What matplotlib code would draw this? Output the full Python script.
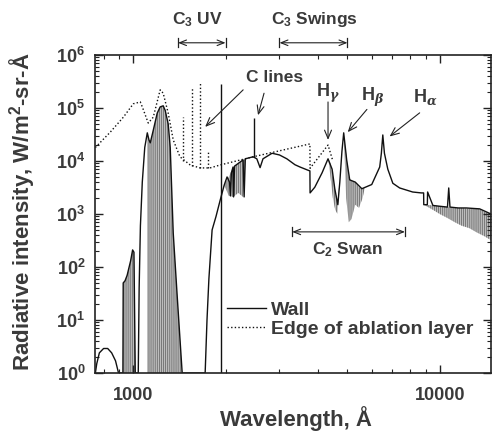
import numpy as np
import matplotlib
matplotlib.use('Agg')
import matplotlib.pyplot as plt
from matplotlib.ticker import FixedLocator, NullFormatter, LogLocator

plt.rcParams['font.family'] = ['Liberation Sans', 'DejaVu Sans']
plt.rcParams['font.weight'] = 'bold'
plt.rcParams['mathtext.fontset'] = 'custom'
plt.rcParams['mathtext.rm'] = 'Liberation Sans:bold'
plt.rcParams['mathtext.bf'] = 'Liberation Sans:bold'
plt.rcParams['mathtext.it'] = 'DejaVu Serif:italic'
plt.rcParams['hatch.linewidth'] = 0.5

TXT = '#3a3a3a'

# wall spectrum (solid line), wavelength in A, intensity in W/m2-sr-A
wall_x = [752, 760, 775, 800, 825, 850, 875, 895, 925, 927, 940, 955, 965, 980, 995, 1005, 1015,
          1038, 1045, 1055, 1070, 1090, 1111, 1125, 1136, 1162, 1197, 1224, 1252, 1271, 1300, 1320,
          1350, 1390, 1444, 1716, 1740, 1765, 1808, 1862, 1920, 1980, 2023, 2060, 2075, 2090, 2116,
          2125, 2140, 2282, 2300, 2320, 2460, 2530, 2593, 2650, 2837, 3000, 3170, 3370, 3500, 3717,
          3770, 3775, 3911, 4132, 4320, 4455, 4545, 4650, 4720, 4795, 4860, 4970, 5085, 5300, 5570,
          6000, 6370, 6450, 6520, 6600, 6770, 7030, 7400, 8160, 8700, 8860, 8870, 9110, 9130, 9500,
          10000, 10600, 10700, 10800, 11500, 12200, 13500, 14700]
wall_y = [1, 1.5, 2.4, 2.9, 2.9, 2.4, 1.7, 1, 1, 50, 55, 70, 90, 130, 210, 190, 1,
          1, 40, 600, 4000, 1.8e4, 3.4e4, 2.5e4, 2.2e4, 3.8e4, 8e4, 1.05e5, 1.1e5, 9e4, 5e4, 1.8e4,
          440, 30, 1, 1, 10, 60, 500, 900, 1800, 3500, 5e3, 4e3, 2.2e3, 6e3, 7.7e3,
          2.1e3, 8e3, 1.05e4, 2.1e3, 1.1e4, 1.2e4, 1.1e4, 7.5e3, 1.1e4, 1.4e4, 1.3e4, 1.1e4, 8.5e3, 7.7e3, 6.7e3,
          6.5e3, 2.5e3, 3.2e3, 6e3, 1.1e4, 7e3, 3e3, 1.5e3, 4e3, 1.5e4, 3.4e4, 1.05e4, 4.4e3, 4e3, 3e3,
          3.6e3, 7.7e3, 1.4e4, 3.1e4, 1.4e4, 7e3, 3.8e3, 3.1e3, 2.6e3, 2.5e3, 2.5e3, 1.5e3, 1.5e3, 2.6e3, 1.45e3,
          1.4e3, 1.35e3, 3.1e3, 1.35e3, 1.3e3, 1.3e3, 1.25e3, 1.0e3]

# edge of ablation layer (dotted line)
edge_x = [752, 841, 928, 1000, 1054, 1070, 1119, 1162, 1224, 1252, 1300, 1350, 1420, 1534, 1652,
          1780, 1920, 2460, 3770, 3775, 4320, 4480]
edge_y = [1.8e4, 3.5e4, 6.7e4, 1.2e5, 1.3e5, 1.05e5, 5.2e4, 6.7e4, 2.2e5, 1.9e5, 8e4, 2.5e4, 1.2e4,
          8.4e3, 7.4e3, 7.4e3, 8.4e3, 1.2e4, 2.1e4, 7.3e3, 2e4, 1e4]

# atomic carbon lines
edge_line_x = [1455, 1556, 1652, 1755]
edge_line_lo = [1.0e4, 8.2e3, 7.4e3, 7.4e3]
edge_line_hi = [6.7e4, 2.4e5, 2.9e5, 1.6e4]
wall_line_x = [1930, 2478]
wall_line_lo = [1, 1.2e4]
wall_line_hi = [2.8e5, 6.5e4]

# dense band regions (unresolved molecular structure)
band_a_x = [925, 927, 940, 955, 965, 980, 995, 1005, 1015]
band_a_hi = [1, 50, 55, 70, 90, 130, 210, 190, 1]
band_a_lo = [1, 1, 1, 1, 1, 1, 1, 1, 1]
band_b_x = [1111, 1125, 1136, 1162, 1197, 1224, 1252, 1271, 1300, 1320, 1350, 1390, 1444]
band_b_hi = [3.4e4, 2.5e4, 2.2e4, 3.8e4, 8e4, 1.05e5, 1.1e5, 9e4, 5e4, 1.8e4, 440, 30, 1]
band_b_lo = [1, 1, 1, 1, 1, 1, 1, 1, 1, 1, 1, 1, 1]
band_c_x = [1980, 2050, 2120, 2200, 2282, 2330]
band_c_hi = [3500, 5e3, 7.7e3, 9e3, 1.05e4, 1.1e4]
band_c_lo = [3500, 2.2e3, 2.1e3, 2.5e3, 2.1e3, 1.1e4]
band_d_x = [4330, 4400, 4480, 4560, 4640, 4700]
band_d_hi = [1.1e4, 9e3, 5e3, 2.8e3, 1.6e3, 3.5e3]
band_d_lo = [1.1e4, 5e3, 2e3, 1.2e3, 1.0e3, 3.5e3]
band_e_x = [4870, 4950, 5050, 5150, 5300, 5450, 5600, 5700]
band_e_hi = [3.0e4, 1.4e4, 5e3, 4.2e3, 4e3, 3.2e3, 3e3, 3.2e3]
band_e_lo = [3.0e4, 2e3, 700, 800, 1.5e3, 1.3e3, 2e3, 3.2e3]
band_f_x = [8870, 9500, 10000, 10600, 11200, 11800, 12500, 13200, 14000, 14700]
band_f_hi = [1.5e3, 1.45e3, 1.4e3, 1.35e3, 1.3e3, 1.3e3, 1.25e3, 1.3e3, 1.1e3, 1.0e3]
band_f_lo = [1.5e3, 1.2e3, 1.0e3, 840, 700, 600, 540, 450, 380, 320]

# band system labels: (text, start, end, arrow y, text x, text y)
systems = [(r'C$_3$ UV', 1400, 2000, 1.7e6, 1616, 4.6e6),
           (r'C$_3$ Swings', 3000, 5000, 1.7e6, 3900, 4.6e6),
           (r'C$_2$ Swan', 3300, 7700, 460, 5010, 214)]

fig = plt.figure(figsize=(4.93, 4.34), dpi=100)
ax = fig.add_axes([95 / 493, 61 / 434, 396 / 493, 318 / 434])
ax.set_xscale('log')
ax.set_yscale('log')

for bx, bhi, blo in [(band_a_x, band_a_hi, band_a_lo), (band_b_x, band_b_hi, band_b_lo),
                     (band_c_x, band_c_hi, band_c_lo), (band_d_x, band_d_hi, band_d_lo),
                     (band_e_x, band_e_hi, band_e_lo), (band_f_x, band_f_hi, band_f_lo)]:
    ax.fill_between(bx, blo, bhi, facecolor='#bdbdbd', edgecolor='#5e5e5e', hatch='||||||||', lw=0)

line_wall, = ax.plot(wall_x, wall_y, '-', color='#111111', lw=1.0, label='Wall')
line_edge, = ax.plot(edge_x, edge_y, linestyle=(0, (1, 1.6)), color='#111111', lw=1.0,
                     label='Edge of ablation layer')
ax.vlines(edge_line_x, edge_line_lo, edge_line_hi, colors='#111111', linestyles=(0, (1, 1.6)), lw=1.0)
ax.vlines(wall_line_x, wall_line_lo, wall_line_hi, colors='#111111', lw=1.0)

ax.set_xlim(750, 14700)
ax.set_ylim(1, 1e6)

ax.xaxis.set_major_locator(FixedLocator([1000, 10000]))
ax.xaxis.set_minor_locator(LogLocator(base=10, subs=np.arange(2, 10)))
ax.xaxis.set_minor_formatter(NullFormatter())
ax.set_xticklabels(['1000', '10000'])
ax.yaxis.set_major_locator(FixedLocator([10.0 ** k for k in range(7)]))
ax.yaxis.set_minor_locator(LogLocator(base=10, subs=np.arange(2, 10)))
ax.yaxis.set_minor_formatter(NullFormatter())
ax.set_yticklabels([r'$\mathbf{10^{%d}}$' % k for k in range(7)])
ax.tick_params(which='both', direction='in', top=True, right=True, colors='#222222',
               labelcolor=TXT, labelsize=13)
ax.tick_params(which='major', length=6, width=1.0)
ax.tick_params(which='minor', length=3, width=0.8)
ax.tick_params(axis='x', pad=10)
ax.tick_params(axis='y', pad=7)
for s in ax.spines.values():
    s.set_linewidth(1.2)
    s.set_color('#222222')

fig.text(22 / 493, 1 - 212 / 434, 'Radiative intensity, W/m$^2$-sr-Å', rotation=90, ha='center',
         va='center', fontsize=16, color=TXT)
fig.text(296 / 493, 1 - 419 / 434, 'Wavelength, Å', ha='center', va='center',
         fontsize=16, color=TXT)

# band system ranges
for name, x0, x1, ya, tx, ty in systems:
    ax.annotate('', xy=(x0, ya), xytext=(x1, ya), annotation_clip=False,
                arrowprops=dict(arrowstyle='<->,head_length=0.5,head_width=0.2', color='#222222',
                                lw=0.8, shrinkA=0, shrinkB=0))
    ax.plot([x0, x0], [ya / 1.22, ya * 1.22], color='#222222', lw=0.9, clip_on=False)
    ax.plot([x1, x1], [ya / 1.22, ya * 1.22], color='#222222', lw=0.9, clip_on=False)
    ax.text(tx, ty, name, ha='center', va='center', fontsize=12.5, color=TXT, clip_on=False)

arrow_kw = dict(arrowstyle='->,head_length=0.6,head_width=0.25', color='#222222', lw=0.8,
                shrinkA=0, shrinkB=0)
ax.text(2900, 3.76e5, 'C lines', ha='center', va='center', fontsize=12.5, color=TXT)
ax.annotate('', xy=(1716, 4.4e4), xytext=(2283, 2.2e5), arrowprops=arrow_kw)
ax.annotate('', xy=(2553, 7.3e4), xytext=(2671, 1.9e5), arrowprops=arrow_kw)

ax.text(4330, 1.85e5, r'H$_\gamma$', ha='center', va='center', fontsize=13, color=TXT)
ax.annotate('', xy=(4320, 2.5e4), xytext=(4320, 1.3e5), arrowprops=arrow_kw)
ax.text(6050, 1.6e5, r'H$_\beta$', ha='center', va='center', fontsize=13, color=TXT)
ax.annotate('', xy=(5010, 3.5e4), xytext=(5786, 9.4e4), arrowprops=arrow_kw)
ax.text(9000, 1.6e5, r'H$_\alpha$', ha='center', va='center', fontsize=13, color=TXT)
ax.annotate('', xy=(6860, 2.9e4), xytext=(8600, 8.1e4), arrowprops=arrow_kw)

leg = ax.legend(handles=[line_wall, line_edge], loc='upper left',
                bbox_to_anchor=((227 - 95) / 396, (373 - 301) / 318), frameon=False,
                borderpad=0, borderaxespad=0, handlelength=2.0, handletextpad=0.25,
                labelspacing=0.1, fontsize=14)
for t in leg.get_texts():
    t.set_color(TXT)

fig.savefig('out.png', dpi=100)
